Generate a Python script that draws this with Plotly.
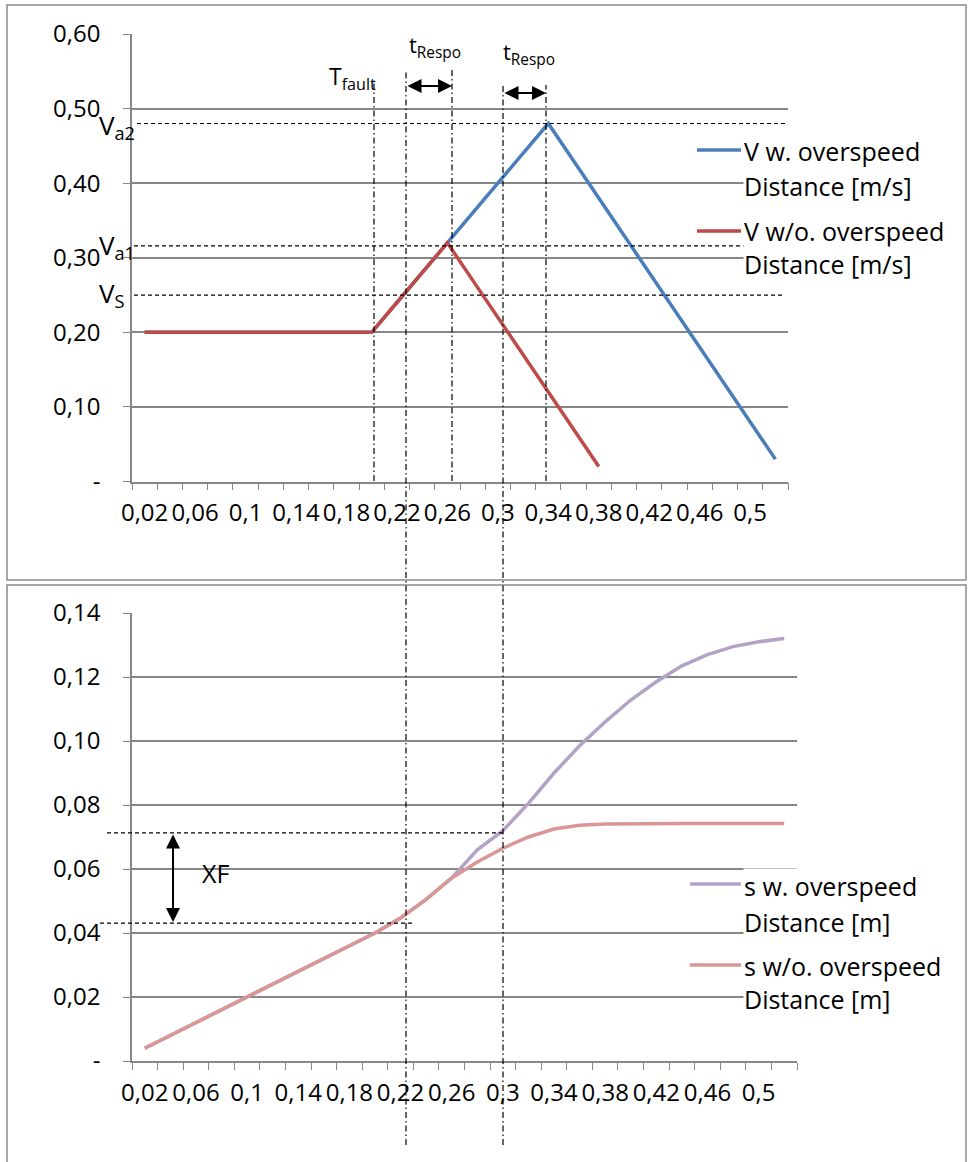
import plotly.graph_objects as go

# ---------------- data ----------------
t = [0.02, 0.04, 0.06, 0.08, 0.10, 0.12, 0.14, 0.16, 0.18, 0.20, 0.22, 0.24, 0.26,
     0.28, 0.30, 0.32, 0.34, 0.36, 0.38, 0.40, 0.42, 0.44, 0.46, 0.48, 0.50, 0.52]

v_over = [0.20, 0.20, 0.20, 0.20, 0.20, 0.20, 0.20, 0.20, 0.20, 0.20, 0.24, 0.28, 0.32,
          0.36, 0.40, 0.44, 0.48, 0.43, 0.38, 0.33, 0.28, 0.23, 0.18, 0.13, 0.08, 0.03]
v_no = [0.20, 0.20, 0.20, 0.20, 0.20, 0.20, 0.20, 0.20, 0.20, 0.20, 0.24, 0.28, 0.32,
        0.27, 0.22, 0.17, 0.12, 0.07, 0.02]

s_over = [0.004, 0.008, 0.012, 0.016, 0.020, 0.024, 0.028, 0.032, 0.036, 0.040, 0.0447, 0.0505, 0.0572,
          0.0660, 0.0720, 0.0805, 0.0900, 0.0985, 0.1060, 0.1128, 0.1185, 0.1235, 0.1270, 0.1295, 0.1310, 0.1320]
s_no = [0.004, 0.008, 0.012, 0.016, 0.020, 0.024, 0.028, 0.032, 0.036, 0.040, 0.0447, 0.0505, 0.0572,
        0.0622, 0.0665, 0.0700, 0.0725, 0.0737, 0.0741, 0.0742, 0.0742, 0.0742, 0.0742, 0.0742, 0.0742, 0.0742]

x_tick_vals = [0.02, 0.06, 0.10, 0.14, 0.18, 0.22, 0.26, 0.30, 0.34, 0.38, 0.42, 0.46, 0.50]
x_tick_text = ["0,02", "0,06", "0,1", "0,14", "0,18", "0,22", "0,26", "0,3", "0,34", "0,38", "0,42", "0,46", "0,5"]

v_tick_vals = [0.0, 0.1, 0.2, 0.3, 0.4, 0.5, 0.6]
v_tick_text = ["-", "0,10", "0,20", "0,30", "0,40", "0,50", "0,60"]
s_tick_vals = [0.0, 0.02, 0.04, 0.06, 0.08, 0.10, 0.12, 0.14]
s_tick_text = ["-", "0,02", "0,04", "0,06", "0,08", "0,10", "0,12", "0,14"]

v_names = [("V w. overspeed", "Distance [m/s]"), ("V w/o. overspeed", "Distance [m/s]")]
s_names = [("s w. overspeed", "Distance [m]"), ("s w/o. overspeed", "Distance [m]")]

v_levels = {"a2": 0.48, "a1": 0.316, "S": 0.25}
xf_levels = [0.0713, 0.0431]

# ---------------- styling ----------------
W, H = 970, 1162
FONT = "Open Sans"
GRID = "#878787"
BLUE = "#4A7EBB"
RED = "#BE4B48"
PURPLE = "#B3A2C7"
PINK = "#D99694"


def px(x):
    return x / W


def py(y):
    return 1 - y / H


fig = go.Figure()
fig.add_trace(go.Scatter(x=t, y=v_over, mode="lines", line=dict(color=BLUE, width=3.5),
                         name=" ".join(v_names[0]), showlegend=False, xaxis="x", yaxis="y"))
fig.add_trace(go.Scatter(x=t[:len(v_no)], y=v_no, mode="lines", line=dict(color=RED, width=3.5),
                         name=" ".join(v_names[1]), showlegend=False, xaxis="x", yaxis="y"))
fig.add_trace(go.Scatter(x=t, y=s_over, mode="lines", line=dict(color=PURPLE, width=3.5),
                         name=" ".join(s_names[0]), showlegend=False, xaxis="x2", yaxis="y2"))
fig.add_trace(go.Scatter(x=t, y=s_no, mode="lines", line=dict(color=PINK, width=3.5),
                         name=" ".join(s_names[1]), showlegend=False, xaxis="x2", yaxis="y2"))

tickfont = dict(family=FONT, size=24, color="black")


def xaxis_cfg(dom, anchor):
    return dict(domain=dom, anchor=anchor, range=[0.01, 0.53], tickmode="array",
                tickvals=x_tick_vals, ticktext=x_tick_text, ticks="", showgrid=False,
                showline=True, linecolor=GRID, linewidth=1.5, zeroline=False, automargin=False,
                tickfont=tickfont, ticklabelstandoff=9,
                minor=dict(ticks="outside", ticklen=7, tickwidth=1.3, tickcolor=GRID,
                           tickmode="linear", tick0=0.01, dtick=0.02, showgrid=False))


def yaxis_cfg(dom, anchor, rng, vals, text):
    return dict(domain=dom, anchor=anchor, range=rng, tickmode="array", tickvals=vals,
                ticktext=text, ticks="outside", ticklen=7, tickwidth=1.3, tickcolor=GRID,
                showgrid=True, gridcolor=GRID, gridwidth=1.5, showline=True, linecolor=GRID,
                linewidth=1.5, zeroline=False, automargin=False, tickfont=tickfont,
                ticklabelstandoff=18)


fig.update_layout(
    width=W, height=H, margin=dict(l=0, r=0, t=0, b=0, pad=0, autoexpand=False),
    paper_bgcolor="white", plot_bgcolor="white", showlegend=False,
    xaxis=xaxis_cfg([px(132), px(788)], "y"),
    yaxis=yaxis_cfg([py(481.5), py(34)], "x", [0, 0.6], v_tick_vals, v_tick_text),
    xaxis2=xaxis_cfg([px(132), px(797)], "y2"),
    yaxis2=yaxis_cfg([py(1061), py(613)], "x2", [0, 0.14], s_tick_vals, s_tick_text),
)

shapes = []
# outer chart boxes
shapes.append(dict(type="rect", xref="paper", yref="paper", x0=px(7), x1=px(966), y0=py(580), y1=py(5),
                   line=dict(color="#8C8C8C", width=1.5), fillcolor="rgba(0,0,0,0)", layer="above"))
shapes.append(dict(type="rect", xref="paper", yref="paper", x0=px(7), x1=px(966), y0=py(1175), y1=py(585),
                   line=dict(color="#8C8C8C", width=1.5), fillcolor="rgba(0,0,0,0)", layer="above"))
# white text-box backgrounds hiding gridlines
shapes.append(dict(type="rect", xref="paper", yref="paper", x0=px(390), x1=px(585), y0=py(44), y1=py(26),
                   line=dict(width=0), fillcolor="white", layer="between"))
shapes.append(dict(type="rect", xref="paper", yref="paper", x0=px(180), x1=px(283), y0=py(895), y1=py(848),
                   line=dict(width=0), fillcolor="white", layer="between"))

DASH = dict(color="black", width=1.2, dash="4px,3px")
DDOT = dict(color="black", width=1.2, dash="6px,3px,1.5px,3px")
# horizontal reference levels (top)
shapes.append(dict(type="line", xref="paper", yref="y", x0=px(137), x1=px(785),
                   y0=v_levels["a2"], y1=v_levels["a2"], line=DASH, layer="above"))
shapes.append(dict(type="line", xref="paper", yref="y", x0=px(134), x1=px(744),
                   y0=v_levels["a1"], y1=v_levels["a1"], line=DASH, layer="above"))
shapes.append(dict(type="line", xref="paper", yref="y", x0=px(134), x1=px(785),
                   y0=v_levels["S"], y1=v_levels["S"], line=DASH, layer="above"))
# XF levels (bottom)
shapes.append(dict(type="line", xref="paper", yref="y2", x0=px(107), x1=px(503),
                   y0=xf_levels[0], y1=xf_levels[0], line=DASH, layer="above"))
shapes.append(dict(type="line", xref="paper", yref="y2", x0=px(100), x1=px(415),
                   y0=xf_levels[1], y1=xf_levels[1], line=DASH, layer="above"))
# vertical dash-dot lines
for xv, y0, y1 in [(374, 80, 481), (406, 70, 1145), (452, 70, 481), (503, 85, 1145), (546, 85, 481)]:
    shapes.append(dict(type="line", xref="paper", yref="paper", x0=px(xv), x1=px(xv),
                       y0=py(y1), y1=py(y0), line=DDOT, layer="above"))
# legend swatches
for col, x0, x1, yy in [(BLUE, 697, 741, 150), (RED, 697, 741, 231),
                        (PURPLE, 690, 741, 884), (PINK, 690, 741, 965)]:
    shapes.append(dict(type="line", xref="paper", yref="paper", x0=px(x0), x1=px(x1),
                       y0=py(yy), y1=py(yy), line=dict(color=col, width=3.5), layer="above"))
fig.update_layout(shapes=shapes)

ann = []
lf = dict(family=FONT, size=25, color="black")
for text, yy in [(v_names[0][0], 151), (v_names[0][1], 186), (v_names[1][0], 231), (v_names[1][1], 264),
                 (s_names[0][0], 886), (s_names[0][1], 922), (s_names[1][0], 966), (s_names[1][1], 999)]:
    ann.append(dict(text=text, xref="paper", yref="paper", x=px(743), y=py(yy), xanchor="left",
                    yanchor="middle", showarrow=False, font=lf, bgcolor="white", borderpad=0))

vf = dict(family=FONT, size=26, color="black")
ann.append(dict(text="V<sub>a2</sub>", xref="paper", yref="paper", x=px(97), y=py(126),
                xanchor="left", yanchor="middle", showarrow=False, font=vf))
ann.append(dict(text="V<sub>a1</sub>", xref="paper", yref="paper", x=px(97), y=py(246),
                xanchor="left", yanchor="middle", showarrow=False, font=vf))
ann.append(dict(text="V<sub>S</sub>", xref="paper", yref="paper", x=px(97), y=py(294),
                xanchor="left", yanchor="middle", showarrow=False, font=vf))
ann.append(dict(text="T<sub>fault</sub>", xref="paper", yref="paper", x=px(327), y=py(77),
                xanchor="left", yanchor="middle", showarrow=False, font=dict(family=FONT, size=23, color="black")))
rf = dict(family=FONT, size=22, color="black")
ann.append(dict(text="t<sub>Respo</sub>", xref="paper", yref="paper", x=px(407), y=py(46),
                xanchor="left", yanchor="middle", showarrow=False, font=rf))
ann.append(dict(text="t<sub>Respo</sub>", xref="paper", yref="paper", x=px(501), y=py(53),
                xanchor="left", yanchor="middle", showarrow=False, font=rf))
ann.append(dict(text="XF", xref="paper", yref="paper", x=px(200), y=py(873),
                xanchor="left", yanchor="middle", showarrow=False, font=dict(family=FONT, size=25, color="black")))
# double-headed arrows
arrow = dict(text="", showarrow=True, arrowhead=2, startarrowhead=2, arrowside="end+start",
             arrowsize=1.4, startarrowsize=1.4, arrowwidth=2, arrowcolor="black", standoff=0,
             startstandoff=0, xref="paper", yref="paper", axref="pixel", ayref="pixel")
ann.append(dict(arrow, x=px(452), y=py(86), ax=-46, ay=0))
ann.append(dict(arrow, x=px(546), y=py(93), ax=-43, ay=0))
ann.append(dict(arrow, x=px(173), y=py(922), ax=0, ay=-89))
fig.update_layout(annotations=ann)

fig.write_html("out.html", config={"displayModeBar": False},
               post_script="document.body.style.margin='0';")
